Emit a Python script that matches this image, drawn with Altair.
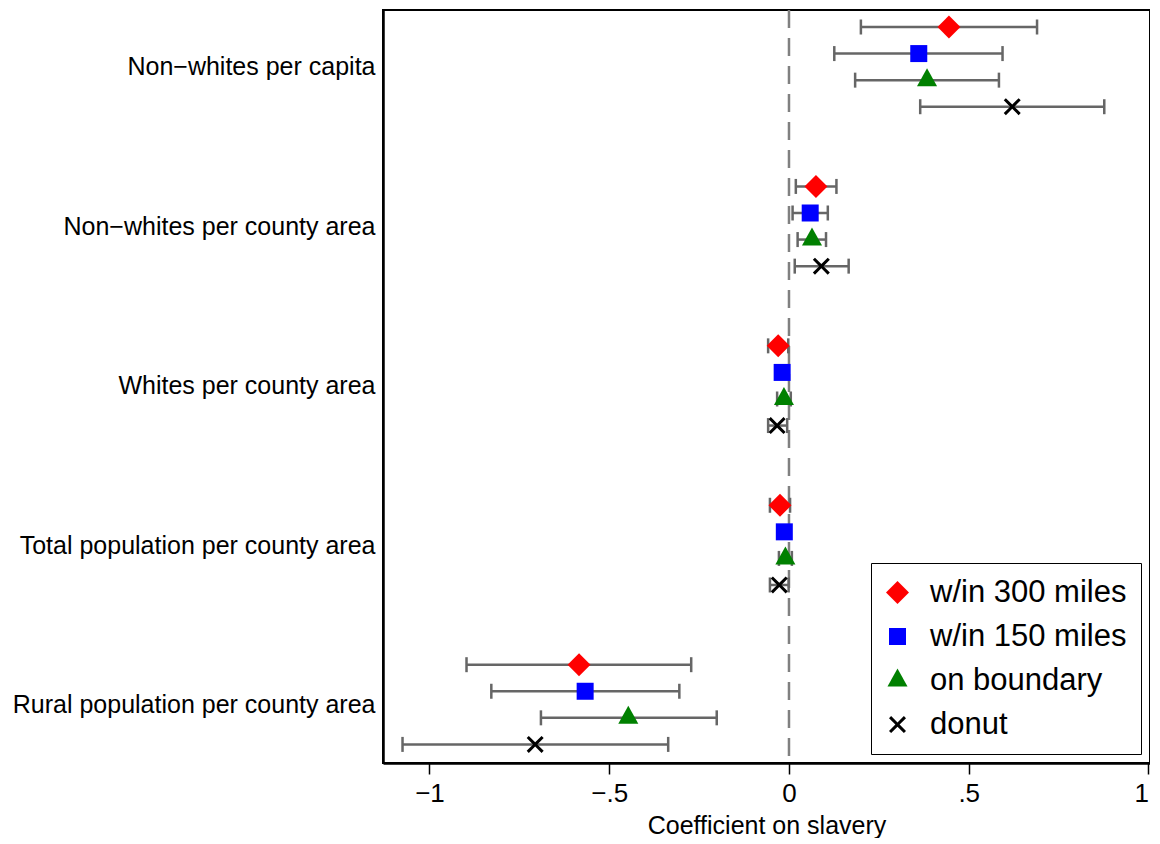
import altair as alt
import pandas as pd

# ---------------- data ----------------
groups = [
    "Non−whites per capita",
    "Non−whites per county area",
    "Whites per county area",
    "Total population per county area",
    "Rural population per county area",
]
series = ["w/in 300 miles", "w/in 150 miles", "on boundary", "donut"]

coef = [
    [0.445, 0.361, 0.384, 0.621],
    [0.075, 0.059, 0.064, 0.090],
    [-0.030, -0.019, -0.014, -0.033],
    [-0.025, -0.013, -0.010, -0.027],
    [-0.584, -0.567, -0.447, -0.706],
]
lower = [
    [0.200, 0.126, 0.184, 0.365],
    [0.019, 0.010, 0.024, 0.016],
    [-0.058, -0.028, -0.033, -0.058],
    [-0.053, -0.022, -0.028, -0.053],
    [-0.897, -0.828, -0.690, -1.075],
]
upper = [
    [0.690, 0.594, 0.584, 0.877],
    [0.132, 0.108, 0.103, 0.166],
    [-0.002, -0.010, 0.005, -0.005],
    [0.003, -0.004, 0.008, -0.001],
    [-0.272, -0.305, -0.201, -0.336],
]

colors = ["#ff0000", "#0000ff", "#008000", "#000000"]
shape_paths = [
    "M0,-1.35L1.35,0L0,1.35L-1.35,0Z",
    "M-1,-1L1,-1L1,1L-1,1Z",
    "M0,-1.41L1.18,0.71L-1.18,0.71Z",
    "M-1,-0.75L-0.75,-1L0,-0.25L0.75,-1L1,-0.75L0.25,0L1,0.75L0.75,1L0,0.25L-0.75,1L-1,0.75L-0.25,0Z",
]

x_ticks = [-1, -0.5, 0, 0.5, 1]
x_tick_labels = ["−1", "−.5", "0", ".5", "1"]

# ---------------- layout helpers ----------------
ROWS_PER_GROUP = 6  # 4 series + 2 blank rows of gap
rows = []
for g, gname in enumerate(groups):
    for s, sname in enumerate(series):
        rows.append(
            dict(
                group=gname,
                series=sname,
                pos=g * ROWS_PER_GROUP + s,
                coef=coef[g][s],
                lo=lower[g][s],
                hi=upper[g][s],
            )
        )
df = pd.DataFrame(rows)

n_pos = (len(groups) - 1) * ROWS_PER_GROUP + len(series) - 1
y_domain = [-0.64, n_pos + 0.70]
x_domain = [-1.1293, 1.0042]

y_label_values = [g * ROWS_PER_GROUP + 1.5 for g in range(len(groups))]
y_label_expr = (
    "[" + ",".join("'" + g + "'" for g in groups) + "]"
    + f"[round((datum.value - 1.5) / {ROWS_PER_GROUP})]"
)
x_label_expr = (
    "[" + ",".join("'" + t + "'" for t in x_tick_labels) + "]"
    + "[round((datum.value + 1) * 2)]"
)

FONT = "Liberation Sans"

x_scale = alt.Scale(domain=x_domain, nice=False, zero=False)
y_scale = alt.Scale(domain=y_domain, nice=False, zero=False, reverse=True)

x_axis = alt.Axis(
    values=x_ticks,
    labelExpr=x_label_expr,
    labelFontSize=26,
    labelFont=FONT,
    labelColor="black",
    labelPadding=6,
    labelFlush=5,
    tickSize=11,
    tickWidth=1.5,
    tickColor="black",
    domain=True,
    domainColor="black",
    domainWidth=2.5,
    grid=False,
    title="Coefficient on slavery",
    titleFont=FONT,
    titleFontSize=25,
    titleFontWeight="normal",
    titleColor="black",
    titlePadding=7,
)
y_axis = alt.Axis(
    values=y_label_values,
    labelExpr=y_label_expr,
    labelFontSize=25,
    labelFont=FONT,
    labelColor="black",
    labelPadding=8,
    labelLimit=600,
    labelFlush=False,
    labelOverlap=False,
    ticks=False,
    domain=True,
    domainColor="black",
    domainWidth=2.5,
    grid=False,
    title=None,
)

base = alt.Chart(df)

zero_line = (
    alt.Chart(pd.DataFrame({"x": [0]}))
    .mark_rule(color="#808080", strokeWidth=2.5, strokeDash=[18, 10])
    .encode(x=alt.X("x:Q", scale=x_scale, axis=x_axis))
)

err_col = "#666666"
bars = base.mark_rule(color=err_col, strokeWidth=2.5).encode(
    x=alt.X("lo:Q", scale=x_scale, axis=x_axis),
    x2="hi:Q",
    y=alt.Y("pos:Q", scale=y_scale, axis=y_axis),
)
cap_lo = base.mark_tick(orient="vertical", color=err_col, size=15, thickness=2.5, opacity=1).encode(
    x=alt.X("lo:Q", scale=x_scale, axis=x_axis),
    y=alt.Y("pos:Q", scale=y_scale, axis=y_axis),
)
cap_hi = base.mark_tick(orient="vertical", color=err_col, size=15, thickness=2.5, opacity=1).encode(
    x=alt.X("hi:Q", scale=x_scale, axis=x_axis),
    y=alt.Y("pos:Q", scale=y_scale, axis=y_axis),
)

legend = alt.Legend(
    title=None,
    orient="none",
    legendX=488,
    legendY=553,
    padding=14,
    strokeColor="black",
    fillColor="white",
    symbolSize=289,
    symbolStrokeWidth=0,
    symbolOffset=-3,
    labelFont=FONT,
    labelFontSize=31,
    labelColor="black",
    labelOffset=17,
    rowPadding=12,
    labelLimit=400,
)

points = base.mark_point(filled=True, size=289, opacity=1, strokeWidth=0).encode(
    x=alt.X("coef:Q", scale=x_scale, axis=x_axis),
    y=alt.Y("pos:Q", scale=y_scale, axis=y_axis),
    color=alt.Color("series:N", scale=alt.Scale(domain=series, range=colors), legend=legend),
    shape=alt.Shape("series:N", scale=alt.Scale(domain=series, range=shape_paths), legend=legend),
)

chart = (
    alt.layer(zero_line, bars, cap_lo, cap_hi, points)
    .properties(width=767, height=753, padding={"left": 4, "top": 0, "right": 0, "bottom": 0})
    .configure(font=FONT)
    .configure_view(stroke="black", strokeWidth=2)
)

chart.save("out.html", embed_options={"renderer": "svg", "actions": False})
